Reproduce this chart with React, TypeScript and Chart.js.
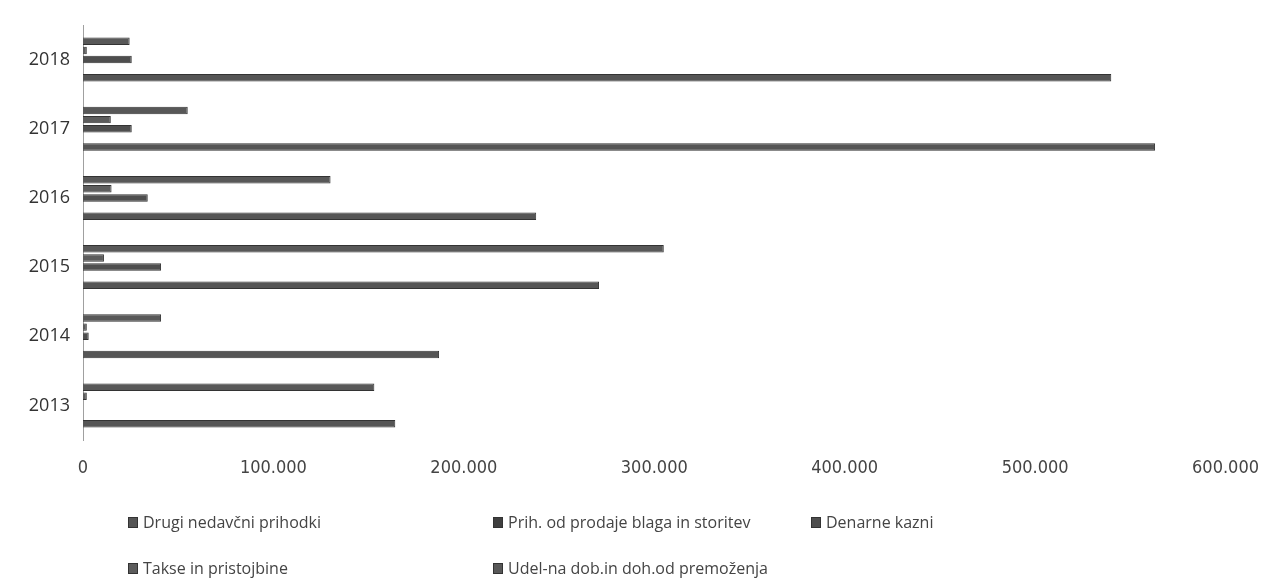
import React, { useEffect, useRef } from 'react';
import { Chart, registerables } from 'chart.js';

Chart.register(...registerables);

// Data (chronological)
const years = ['2013', '2014', '2015', '2016', '2017', '2018'];
const drugiNedavcni = [164000, 187000, 271000, 238000, 563000, 540000];
const prihProdaje = [0, 0, 0, 0, 0, 0];
const denarneKazni = [0, 3000, 41000, 34000, 25600, 25600];
const takse = [2000, 2000, 11000, 15000, 14600, 2000];
const udel = [153000, 41000, 305000, 130000, 55000, 24500];
const xTicks = [0, 100000, 200000, 300000, 400000, 500000, 600000];

const seriesNames = [
  'Drugi nedavčni prihodki',
  'Prih. od prodaje blaga in storitev',
  'Denarne kazni',
  'Takse in pristojbine',
  'Udel-na dob.in doh.od premoženja',
];
const seriesColors = ['#555555', '#3f3f3f', '#4e4e4e', '#5c5c5c', '#585858'];

const fmt = (v: number) => String(v).replace(/\B(?=(\d{3})+(?!\d))/g, '.');

export default function App() {
  const ref = useRef<HTMLCanvasElement | null>(null);

  useEffect(() => {
    if (!ref.current) return;
    const rev = <T,>(a: T[]) => a.slice().reverse();
    // top-to-bottom within each group: Udel, Takse, Denarne, Prih, Drugi
    const order = [4, 3, 2, 1, 0];
    const values = [drugiNedavcni, prihProdaje, denarneKazni, takse, udel];
    const chart = new Chart(ref.current, {
      type: 'bar',
      data: {
        labels: rev(years),
        datasets: order.map((i) => ({
          label: seriesNames[i],
          data: rev(values[i]),
          backgroundColor: seriesColors[i],
          borderColor: '#333333',
          borderWidth: 1,
          categoryPercentage: 0.66,
          barPercentage: 0.82,
        })),
      },
      options: {
        indexAxis: 'y',
        animation: false,
        responsive: false,
        maintainAspectRatio: false,
        layout: { padding: { left: 0, right: 44, top: 25, bottom: 89 } },
        plugins: {
          legend: { display: false },
          tooltip: { enabled: false },
        },
        scales: {
          x: {
            min: 0,
            max: 600000,
            afterBuildTicks: (scale: any) => {
              scale.ticks = xTicks.map((v) => ({ value: v }));
            },
            afterFit: (scale: any) => {
              scale.height = 50;
            },
            grid: { display: false, drawTicks: false },
            border: { display: false },
            ticks: {
              padding: 18,
              maxRotation: 0,
              autoSkip: false,
              color: '#444',
              font: { family: "'Liberation Sans Narrow', 'DejaVu Sans Condensed', 'Open Sans', sans-serif", size: 18 },
              callback: (v: any) => fmt(Number(v)),
            },
          },
          y: {
            afterFit: (scale: any) => {
              scale.width = 83;
            },
            grid: { display: false, drawTicks: false },
            border: { display: true, color: '#a0a0a0', width: 1 },
            ticks: {
              padding: 13,
              color: '#333',
              font: { family: "'Open Sans', sans-serif", size: 18 },
            },
          },
        },
      },
    });
    return () => chart.destroy();
  }, []);

  const legendItems = [
    { name: seriesNames[0], color: seriesColors[0], x: 128, y: 522 },
    { name: seriesNames[1], color: seriesColors[1], x: 493, y: 522 },
    { name: seriesNames[2], color: seriesColors[2], x: 811, y: 522 },
    { name: seriesNames[3], color: seriesColors[3], x: 128, y: 568 },
    { name: seriesNames[4], color: seriesColors[4], x: 493, y: 568 },
  ];

  return (
    <div style={{ position: 'absolute', left: 0, top: 0, width: 1277, height: 579, background: '#fff', overflow: 'hidden' }}>
      <canvas ref={ref} width={1277} height={579} style={{ position: 'absolute', left: 0, top: 0, width: 1277, height: 579 }} />
      {legendItems.map((it) => (
        <div
          key={it.name}
          style={{
            position: 'absolute',
            left: it.x,
            top: it.y - 12,
            height: 24,
            display: 'flex',
            alignItems: 'center',
            fontFamily: "'Open Sans', sans-serif",
            fontSize: 16,
            color: '#444',
            whiteSpace: 'nowrap',
          }}
        >
          <span style={{ display: 'inline-block', width: 8, height: 9, background: it.color, border: '1px solid #333', marginRight: 5 }} />
          <span>{it.name}</span>
        </div>
      ))}
    </div>
  );
}
